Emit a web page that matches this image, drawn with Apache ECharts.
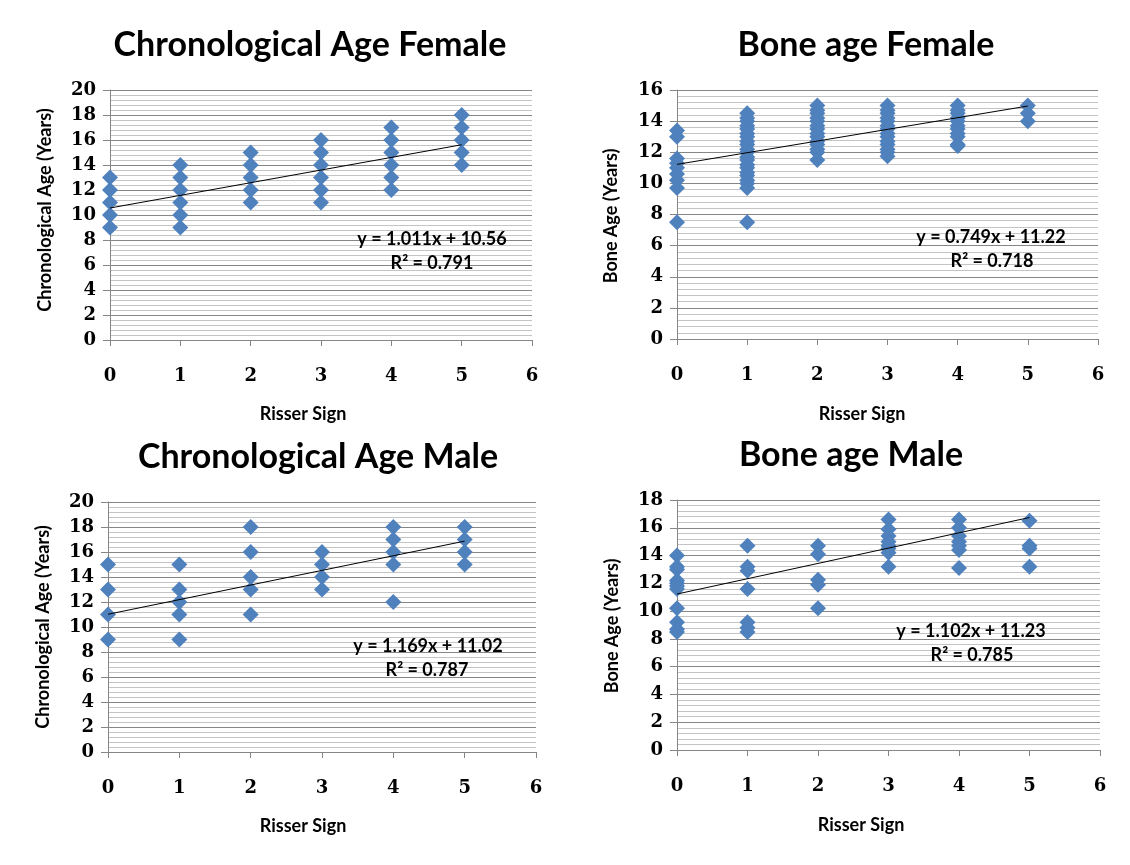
<!DOCTYPE html>
<html><head><meta charset="utf-8">
<script src="https://cdn.jsdelivr.net/npm/echarts@6/dist/echarts.min.js"></script>
<style>html,body{margin:0;padding:0;background:#fff}#c{width:1130px;height:865px}</style>
</head><body><div id="c"></div>
<script>
// Risser sign groups (x categories)
const risser = [0, 1, 2, 3, 4, 5];
const xTicks = [0, 1, 2, 3, 4, 5, 6];

// Chronological Age Female (years), one list per Risser sign
const chronoFemale = [
  [9, 10, 11, 12, 13],
  [9, 10, 11, 12, 13, 14],
  [11, 12, 13, 14, 15],
  [11, 12, 13, 14, 15, 16],
  [12, 13, 14, 15, 16, 17],
  [14, 15, 16, 17, 18]
];
// Bone age Female
const boneFemale = [
  [13.4, 13.0, 11.6, 11.3, 11.0, 10.6, 10.2, 9.7, 7.5],
  [14.5, 14.2, 14.0, 13.7, 13.5, 13.2, 13.0, 12.7, 12.5, 12.2, 12.0, 11.7, 11.5, 11.2, 11.0, 10.7, 10.5, 10.2, 10.0, 9.7, 7.5],
  [15.0, 14.7, 14.5, 14.2, 14.0, 13.7, 13.5, 13.2, 13.0, 12.7, 12.5, 12.2, 12.0, 11.5],
  [15.0, 14.7, 14.5, 14.2, 14.0, 13.7, 13.5, 13.2, 13.0, 12.7, 12.5, 12.2, 12.0, 11.75],
  [15.0, 14.7, 14.5, 14.2, 14.0, 13.7, 13.5, 13.2, 13.0, 12.5, 12.4],
  [15.0, 14.5, 14.0]
];
// Chronological Age Male
const chronoMale = [
  [15, 13, 11, 9],
  [15, 13, 12, 11, 9],
  [18, 16, 14, 13, 11],
  [16, 15, 14, 13],
  [18, 17, 16, 15, 12],
  [18, 17, 16, 15]
];
// Bone age Male
const boneMale = [
  [14.0, 13.2, 13.0, 12.2, 12.0, 11.8, 11.6, 10.2, 9.2, 8.7, 8.5],
  [14.7, 13.2, 12.9, 11.6, 9.2, 8.8, 8.5],
  [14.7, 14.1, 12.25, 11.9, 10.2],
  [16.6, 15.9, 15.4, 15.0, 14.7, 14.5, 14.2, 13.2],
  [16.6, 16.0, 15.4, 15.0, 14.7, 14.4, 13.1],
  [16.5, 14.7, 14.5, 13.2]
];

// Linear trend line endpoints (as shown in chart)
const trendChronoFemale = [[0, 10.56], [5, 15.62]];
const trendBoneFemale   = [[0, 11.22], [5, 14.97]];
const trendChronoMale   = [[0, 11.02], [5, 16.87]];
const trendBoneMale     = [[0, 11.23], [5, 16.74]];

const titles = ['Chronological Age Female', 'Bone age Female', 'Chronological Age Male', 'Bone age Male'];
const yNames = ['Chronological Age (Years)', 'Bone Age (Years)', 'Chronological Age (Years)', 'Bone Age (Years)'];
const xName = 'Risser Sign';
const equations = ['y = 1.011x + 10.56', 'y = 0.749x + 11.22', 'y = 1.169x + 11.02', 'y = 1.102x + 11.23'];
const r2 = ['R² = 0.791', 'R² = 0.718', 'R² = 0.787', 'R² = 0.785'];
const yMax = [20, 16, 20, 18];

const panels = [chronoFemale, boneFemale, chronoMale, boneMale];
const trends = [trendChronoFemale, trendBoneFemale, trendChronoMale, trendBoneMale];

// layout (pixels)
const grids = [
  {left: 110, top: 90, width: 422, height: 250},
  {left: 677, top: 90, width: 421, height: 249},
  {left: 108, top: 502, width: 428, height: 250},
  {left: 677, top: 500, width: 423, height: 250}
];
const titlePos = [[310, 45], [866, 45], [318, 457], [851, 455]];
const yNamePos = [[45, 210], [611, 216], [43, 627], [612, 626]];
const xNamePos = [[303, 414], [862, 414], [303, 826], [861, 825]];
const eqPos = [[432, 239], [991, 237], [428, 646], [971, 631]];
const r2Pos = [[432, 263], [992, 261], [427, 670], [972, 655]];

const sansFont = 'Lato';
const tickFont = 'DejaVu Serif';

function toPairs(groups) {
  const out = [];
  groups.forEach((vals, i) => vals.forEach(v => out.push([risser[i], v])));
  return out;
}

const xAxis = [], yAxis = [], series = [], graphic = [];
for (let i = 0; i < 4; i++) {
  xAxis.push({
    type: 'value', gridIndex: i, min: xTicks[0], max: xTicks[xTicks.length - 1], interval: 1,
    splitLine: {show: false},
    axisLine: {show: true, onZero: false, lineStyle: {color: '#868686', width: 1}},
    axisTick: {show: true, length: 6, lineStyle: {color: '#868686'}},
    axisLabel: {margin: 27, color: '#000', fontFamily: tickFont, fontWeight: 'bold', fontSize: 18}
  });
  yAxis.push({
    type: 'value', gridIndex: i, min: 0, max: yMax[i], interval: 2,
    axisLine: {show: true, lineStyle: {color: '#868686', width: 1}},
    axisTick: {show: true, length: 7, lineStyle: {color: '#868686'}},
    axisLabel: {margin: 14, color: '#000', fontFamily: tickFont, fontWeight: 'bold', fontSize: 18},
    splitLine: {show: true, lineStyle: {color: '#868686', width: 1}},
    minorTick: {show: false, splitNumber: 5},
    minorSplitLine: {show: true, lineStyle: {color: '#c4c4c4', width: 1}}
  });
  series.push({
    type: 'scatter', xAxisIndex: i, yAxisIndex: i, data: toPairs(panels[i]),
    symbol: 'diamond', symbolSize: 16, itemStyle: {color: '#4f81bd', opacity: 1}, z: 2
  });
  series.push({
    type: 'line', xAxisIndex: i, yAxisIndex: i, data: trends[i], symbol: 'none',
    lineStyle: {color: '#000', width: 1}, z: 3, silent: true
  });
  const txt = (x, y, text, font, rot) => ({type: 'text', x: x, y: y, z: 100, rotation: rot || 0,
    style: {text: text, font: font, fill: '#000', align: 'center', verticalAlign: 'middle'}});
  graphic.push(txt(titlePos[i][0], titlePos[i][1], titles[i], 'bold 34px ' + sansFont));
  graphic.push(txt(yNamePos[i][0], yNamePos[i][1], yNames[i], 'bold 18px ' + sansFont, Math.PI / 2));
  graphic.push(txt(xNamePos[i][0], xNamePos[i][1], xName, 'bold 18px ' + sansFont));
  graphic.push(txt(eqPos[i][0], eqPos[i][1], equations[i], 'bold 18px ' + sansFont));
  graphic.push(txt(r2Pos[i][0], r2Pos[i][1], r2[i], 'bold 18px ' + sansFont));
}

const chart = echarts.init(document.getElementById('c'), null, {renderer: 'canvas'});
chart.setOption({
  animation: false,
  backgroundColor: '#fff',
  grid: grids,
  xAxis: xAxis,
  yAxis: yAxis,
  series: series,
  graphic: graphic
});
</script></body></html>
